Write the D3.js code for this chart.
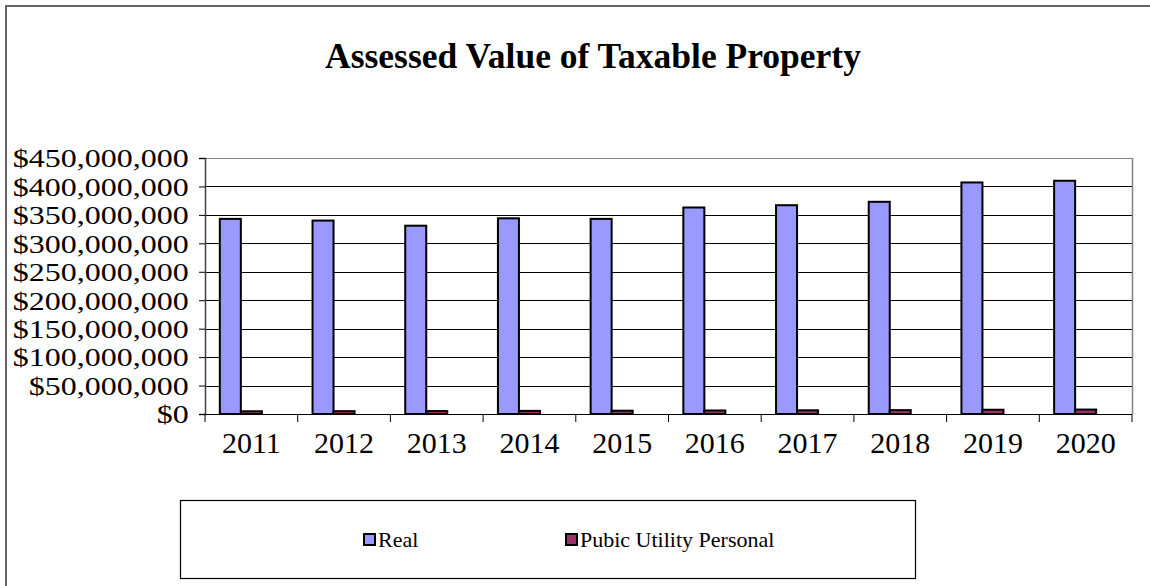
<!DOCTYPE html>
<html><head><meta charset="utf-8">
<script src="https://cdn.jsdelivr.net/npm/d3@7"></script>
<style>body{margin:0;background:#fff}svg{display:block}text{font-family:"Liberation Serif","Times New Roman",serif}</style>
</head><body>
<svg id="c" width="1150" height="586"></svg>
<script>
const years = ["2011","2012","2013","2014","2015","2016","2017","2018","2019","2020"];
const realValues = [343e6,340e6,331e6,344e6,343e6,363e6,367e6,373e6,407e6,410e6];
const utilityValues = [4.8e6,5.0e6,5.2e6,5.5e6,5.8e6,6.2e6,6.5e6,6.8e6,7.5e6,7.8e6];
const yTicks = [0,50e6,100e6,150e6,200e6,250e6,300e6,350e6,400e6,450e6];
const seriesNames = ["Real","Pubic Utility Personal"];
const seriesColors = ["#9999FF","#993366"];
const title = "Assessed Value of Taxable Property";

const svg = d3.select("#c");
const L=205, R=1132, T=158, B=414;
// chart border
svg.append("path").attr("d","M6,600V6H1160").attr("fill","none").attr("stroke","#666").attr("stroke-width",2);

svg.append("text").attr("x",593).attr("y",68).attr("text-anchor","middle")
  .attr("font-size",35.5).attr("font-weight","bold").text(title);

const x0 = d3.scaleBand().domain(years).range([L,R]).padding(0);
const slot = x0.bandwidth();
const x1 = d3.scaleBand().domain([0,1,2]).range([slot*0.16, slot*0.84]).padding(0);
const y = d3.scaleLinear().domain([0,450e6]).range([B,T]);

// gridlines
svg.append("g").selectAll("line").data(yTicks.slice(1)).join("line")
  .attr("x1",L).attr("x2",R).attr("y1",d=>Math.round(y(d))+0.5).attr("y2",d=>Math.round(y(d))+0.5)
  .attr("stroke",(d,i)=> i===yTicks.length-2 ? "#808080":"#000").attr("stroke-width",1);
// right border
svg.append("line").attr("x1",R+0.5).attr("x2",R+0.5).attr("y1",T).attr("y2",B).attr("stroke","#808080").attr("stroke-width",1.5);

// bars
const series=[realValues,utilityValues];
series.forEach((vals,si)=>{
  svg.append("g").selectAll("rect").data(vals).join("rect")
    .attr("x",(d,i)=>x0(years[i])+x1(si))
    .attr("width",x1.bandwidth())
    .attr("y",d=>y(d)).attr("height",d=>B-y(d))
    .attr("fill",seriesColors[si]).attr("stroke","#000").attr("stroke-width",2);
});

// y axis
const ya = svg.append("g").attr("transform",`translate(${L},0)`)
  .call(d3.axisLeft(y).tickValues(yTicks).tickSize(6).tickPadding(9).tickFormat(d=>"$"+d3.format(",")(d)));
ya.select(".domain").attr("stroke","#404040").attr("stroke-width",1.5);
ya.selectAll(".tick line").attr("stroke","#000");
ya.selectAll("text").attr("font-size",26).attr("font-family","Liberation Serif").attr("fill","#000").attr("dy","0.34em")
  .attr("transform","translate(-9,0) scale(1.23,1) translate(9,0)");

// x axis
const xa = svg.append("g").attr("transform",`translate(0,${B})`);
xa.append("line").attr("x1",L-6).attr("x2",R).attr("y1",0.5).attr("y2",0.5).attr("stroke","#000");
xa.selectAll("line.t").data(years.concat(["end"])).join("line").attr("class","t")
  .attr("x1",(d,i)=>L+i*slot).attr("x2",(d,i)=>L+i*slot).attr("y1",0).attr("y2",8).attr("stroke","#000");
xa.selectAll("text").data(years).join("text")
  .attr("x",d=>x0(d)+slot/2).attr("y",39).attr("text-anchor","middle").attr("font-size",30).text(d=>d);

// legend
const lg = svg.append("g");
lg.append("rect").attr("x",180.5).attr("y",500.5).attr("width",735).attr("height",78).attr("fill","#fff").attr("stroke","#000").attr("stroke-width",1.2);
const lx=[364,566];
seriesNames.forEach((n,i)=>{
  lg.append("rect").attr("x",lx[i]).attr("y",534).attr("width",11).attr("height",11)
    .attr("fill",seriesColors[i]).attr("stroke","#000").attr("stroke-width",2);
  lg.append("text").attr("x",lx[i]+14).attr("y",547).attr("font-size",22).text(n);
});
</script>
</body></html>
